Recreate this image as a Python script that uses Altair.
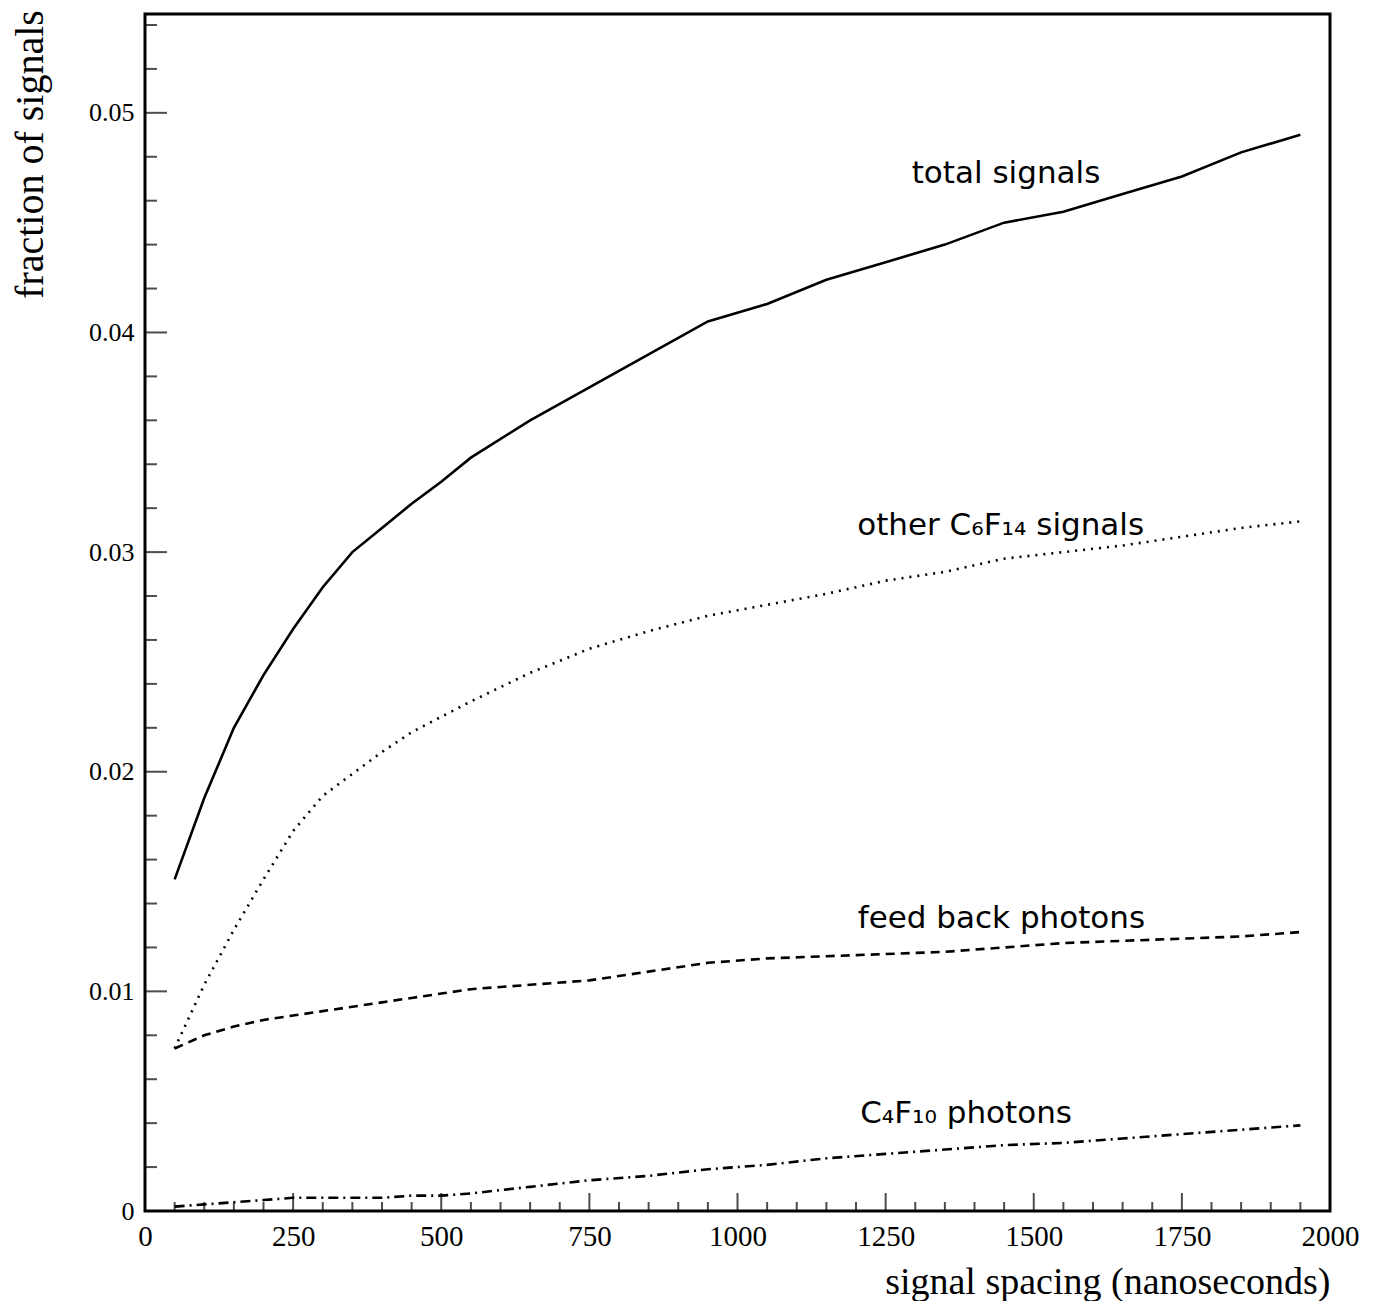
import altair as alt
import pandas as pd

# ---- data ----
x_ns = [50, 100, 150, 200, 250, 300, 350, 400, 450, 500, 550, 650, 750, 850,
        950, 1050, 1150, 1250, 1350, 1450, 1550, 1650, 1750, 1850, 1950]
total = [0.0151, 0.0188, 0.0220, 0.0244, 0.0265, 0.0284, 0.0300, 0.0311, 0.0322,
         0.0332, 0.0343, 0.0360, 0.0375, 0.0390, 0.0405, 0.0413, 0.0424, 0.0432,
         0.0440, 0.0450, 0.0455, 0.0463, 0.0471, 0.0482, 0.0490]
other_c6f14 = [0.0074, 0.0103, 0.0128, 0.0151, 0.0173, 0.0189, 0.0199, 0.0209, 0.0218,
               0.0225, 0.0232, 0.0245, 0.0256, 0.0264, 0.0271, 0.0276, 0.0281, 0.0287,
               0.0291, 0.0297, 0.0300, 0.0303, 0.0307, 0.0311, 0.0314]
feedback = [0.0074, 0.0080, 0.0084, 0.0087, 0.0089, 0.0091, 0.0093, 0.0095, 0.0097,
            0.0099, 0.0101, 0.0103, 0.0105, 0.0109, 0.0113, 0.0115, 0.0116, 0.0117,
            0.0118, 0.0120, 0.0122, 0.0123, 0.0124, 0.0125, 0.0127]
c4f10 = [0.0002, 0.0003, 0.0004, 0.0005, 0.0006, 0.0006, 0.0006, 0.0006, 0.0007,
         0.0007, 0.0008, 0.0011, 0.0014, 0.0016, 0.0019, 0.0021, 0.0024, 0.0026,
         0.0028, 0.0030, 0.0031, 0.0033, 0.0035, 0.0037, 0.0039]

label_text = ["total signals", "other C\u2086F\u2081\u2084 signals",
              "feed back photons", "C\u2084F\u2081\u2080  photons"]
label_x = [1294, 1202, 1203, 1207]
label_y = [0.0468, 0.0308, 0.0129, 0.0040]

x_tick_labels = [0, 250, 500, 750, 1000, 1250, 1500, 1750, 2000]
y_tick_labels = [0, 0.01, 0.02, 0.03, 0.04, 0.05]
x_major_ticks = [250, 500, 750, 1000, 1250, 1500, 1750]
x_minor_ticks = [v for v in range(50, 2000, 50) if v % 250 != 0]
y_major_ticks = [0.01, 0.02, 0.03, 0.04, 0.05]
y_minor_ticks = [0.002, 0.004, 0.006, 0.008, 0.012, 0.014, 0.016, 0.018,
                 0.022, 0.024, 0.026, 0.028, 0.032, 0.034, 0.036, 0.038,
                 0.042, 0.044, 0.046, 0.048, 0.052, 0.054]

W, H = 1185, 1197
XDOM = [0, 2000]
YDOM = [0, 0.0545]

df = pd.DataFrame({"x": x_ns, "total": total, "other": other_c6f14,
                   "feedback": feedback, "c4f10": c4f10})

xs = alt.Scale(domain=XDOM, nice=False, zero=False)
ys = alt.Scale(domain=YDOM, nice=False, zero=False)

xaxis = alt.Axis(values=x_tick_labels, ticks=False, domain=False, grid=False,
                 labelFont="Liberation Serif", labelFontSize=29, labelColor="black",
                 labelPadding=11, labelFlush=False, labelOverlap=False,
                 labelExpr="format(datum.value, 'd')",
                 title="signal spacing (nanoseconds)", titleFont="Liberation Serif",
                 titleFontSize=38, titleFontWeight="normal", titleColor="black",
                 titleX=W, titleY=82, titleAlign="right", titleBaseline="alphabetic")
yaxis = alt.Axis(values=y_tick_labels, ticks=False, domain=False, grid=False,
                 labelFont="Liberation Serif", labelFontSize=26, labelColor="black",
                 labelPadding=11, labelFlush=False, labelOverlap=False,
                 labelExpr="datum.value == 0 ? '0' : format(datum.value, '.2f')",
                 title="fraction of signals", titleFont="Liberation Serif",
                 titleFontSize=40, titleFontWeight="normal", titleColor="black",
                 titleX=-115, titleY=140, titleAngle=270, titleAlign="center",
                 titleBaseline="middle")

base = alt.Chart(df)

def series(field, dash):
    kw = dict(color="black", strokeWidth=2.6, strokeCap="butt")
    if dash:
        kw["strokeDash"] = dash
    return base.mark_line(**kw).encode(
        x=alt.X("x:Q", scale=xs, axis=xaxis),
        y=alt.Y(f"{field}:Q", scale=ys, axis=yaxis),
    )

l_total = series("total", None)
l_other = series("other", [2, 6])
l_feed = series("feedback", [9, 6])
l_c4 = series("c4f10", [10, 5, 2, 5])

def xticks(vals, length):
    return alt.Chart(pd.DataFrame({"t": vals})).mark_tick(
        color="black", thickness=2, size=length, orient="vertical").encode(
        x=alt.X("t:Q", scale=xs), y=alt.value(H - length / 2))

def yticks(vals, length):
    return alt.Chart(pd.DataFrame({"t": vals})).mark_tick(
        color="black", thickness=2, size=length, orient="horizontal").encode(
        y=alt.Y("t:Q", scale=ys), x=alt.value(length / 2))

labels = alt.Chart(pd.DataFrame({"x": label_x, "y": label_y, "t": label_text})).mark_text(
    align="left", baseline="alphabetic", font="DejaVu Sans", fontSize=31, color="black"
).encode(x=alt.X("x:Q", scale=xs), y=alt.Y("y:Q", scale=ys), text="t:N")

chart = alt.layer(
    l_total, l_other, l_feed, l_c4,
    xticks(x_major_ticks, 18), xticks(x_minor_ticks, 9),
    yticks(y_major_ticks, 22), yticks(y_minor_ticks, 12),
    labels,
).properties(
    width=W, height=H,
    autosize=alt.AutoSizeParams(type="none"),
    padding={"left": 137, "top": 6, "right": 40, "bottom": 90},
    background="white",
).configure_view(stroke="black", strokeWidth=3)

chart.save("out.html", embed_options={"renderer": "svg", "actions": False})
